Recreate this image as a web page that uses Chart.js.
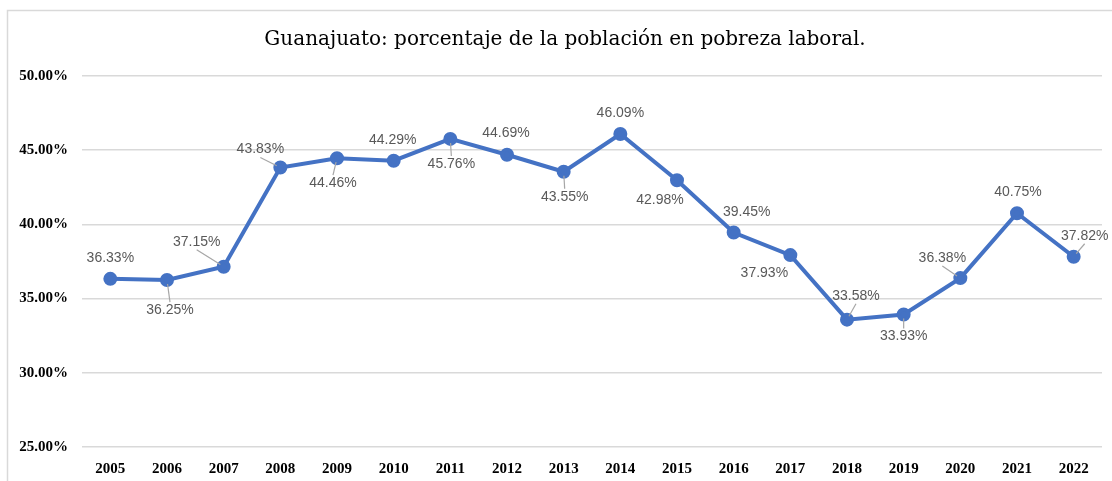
<!DOCTYPE html>
<html lang="es">
<head>
    <meta charset="UTF-8">
    <title>Guanajuato: pobreza laboral</title>
    <script src="https://cdn.jsdelivr.net/npm/chart.js"></script>
    <style>
        html, body { margin: 0; padding: 0; background: #ffffff; overflow: hidden; }
        .wrap { position: relative; width: 1112px; height: 481px; }
    </style>
</head>
<body>
    <div class="wrap">
        <canvas id="pobrezaChart"></canvas>
    </div>

    <script>
        // Data
        const years = ['2005', '2006', '2007', '2008', '2009', '2010', '2011', '2012', '2013',
                       '2014', '2015', '2016', '2017', '2018', '2019', '2020', '2021', '2022'];
        const pobrezaLaboral = [36.33, 36.25, 37.15, 43.83, 44.46, 44.29, 45.76, 44.69, 43.55,
                                46.09, 42.98, 39.45, 37.93, 33.58, 33.93, 36.38, 40.75, 37.82];
        const yTicks = [25, 30, 35, 40, 45, 50];
        const chartTitle = 'Guanajuato: porcentaje de la población en pobreza laboral.';

        // label placement (offset of label centre from its point) and leader lines
        const labelOffsets = [
            [0, -21], [3, 30], [-27, -25], [-20, -18], [-4, 25], [-1, -21],
            [1, 25], [-1, -22], [1, 25], [0, -21], [-17, 20], [13, -20],
            [-26, 18], [9, -24], [0, 22], [-18, -20], [1, -21], [11, -21]
        ];
        const leaders = [false, true, true, true, true, false, true, false, true,
                         false, false, false, false, true, true, true, false, true];

        const blue = '#4472C4';

        // light frame (top and left edges visible) and the title
        const framePlugin = {
            id: 'frame',
            beforeDraw(chart) {
                const ctx = chart.ctx;
                ctx.save();
                ctx.strokeStyle = '#d9d9d9';
                ctx.lineWidth = 1.5;
                ctx.beginPath();
                ctx.moveTo(7.5, chart.height);
                ctx.lineTo(7.5, 10.5);
                ctx.lineTo(chart.width, 10.5);
                ctx.stroke();

                ctx.fillStyle = '#000000';
                ctx.font = '20px "DejaVu Serif", serif';
                ctx.textAlign = 'center';
                ctx.textBaseline = 'middle';
                ctx.fillText(chartTitle, 565, 40);
                ctx.restore();
            }
        };

        // data labels with leader lines
        const labelPlugin = {
            id: 'valueLabels',
            afterDatasetsDraw(chart) {
                const ctx = chart.ctx;
                const meta = chart.getDatasetMeta(0);
                ctx.save();
                ctx.font = '14px "Liberation Sans", Arial, sans-serif';
                ctx.textAlign = 'center';
                ctx.textBaseline = 'middle';
                meta.data.forEach((pt, i) => {
                    const off = labelOffsets[i];
                    const lx = pt.x + off[0];
                    const ly = pt.y + off[1];
                    if (leaders[i]) {
                        const ey = off[1] < 0 ? ly + 8 : ly - 8;
                        const dx = lx - pt.x, dy = ey - pt.y;
                        const len = Math.sqrt(dx * dx + dy * dy);
                        const sx = pt.x + dx / len * 4, sy = pt.y + dy / len * 4;
                        ctx.strokeStyle = '#a6a6a6';
                        ctx.lineWidth = 1.2;
                        ctx.beginPath();
                        ctx.moveTo(sx, sy);
                        ctx.lineTo(lx, ey);
                        ctx.stroke();
                    }
                    ctx.fillStyle = '#595959';
                    ctx.fillText(pobrezaLaboral[i].toFixed(2) + '%', lx, ly);
                });
                ctx.restore();
            }
        };

        const config = {
            type: 'line',
            data: {
                labels: years,
                datasets: [{
                    label: 'Pobreza laboral',
                    data: pobrezaLaboral,
                    borderColor: blue,
                    backgroundColor: blue,
                    borderWidth: 4,
                    pointRadius: 5,
                    pointBackgroundColor: blue,
                    pointBorderColor: blue,
                    tension: 0
                }]
            },
            options: {
                responsive: true,
                maintainAspectRatio: false,
                animation: false,
                layout: { padding: { left: 0, right: 10, top: 76, bottom: 0 } },
                plugins: {
                    legend: { display: false },
                    tooltip: { enabled: false },
                    title: { display: false }
                },
                scales: {
                    x: {
                        offset: true,
                        grid: { display: false },
                        border: { display: false },
                        ticks: {
                            color: '#000000',
                            padding: 5,
                            font: { family: '"Liberation Serif", serif', size: 15, weight: 'bold' }
                        },
                        afterFit(scale) { scale.height = 34; }
                    },
                    y: {
                        min: 25,
                        max: 50,
                        afterBuildTicks(scale) { scale.ticks = yTicks.map(v => ({ value: v })); },
                        grid: { color: '#d9d9d9', lineWidth: 1.5, drawTicks: false },
                        border: { display: false },
                        ticks: {
                            color: '#000000',
                            padding: 14,
                            font: { family: '"Liberation Serif", serif', size: 15, weight: 'bold' },
                            callback: v => v.toFixed(2) + '%'
                        },
                        afterFit(scale) { scale.width = 82; }
                    }
                }
            },
            plugins: [framePlugin, labelPlugin]
        };

        document.addEventListener('DOMContentLoaded', function () {
            new Chart(document.getElementById('pobrezaChart'), config);
        });
    </script>
</body>
</html>
